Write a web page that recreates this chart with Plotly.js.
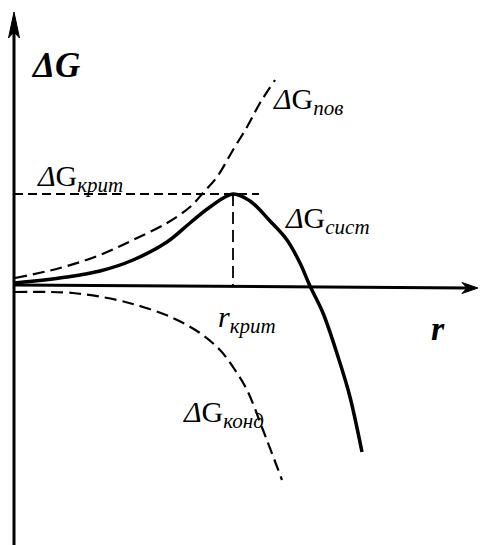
<!DOCTYPE html>
<html>
<head>
<meta charset="utf-8">
<script src="https://cdn.plot.ly/plotly-3.0.1.min.js"></script>
<style>
  html, body { margin: 0; padding: 0; background: #ffffff; }
  #chart { width: 486px; height: 545px; }
</style>
</head>
<body>
<div id="chart"></div>
<script>
// Radius of the nucleus (arbitrary units) and the free-energy terms
const rSurface = [1, 46, 86, 119, 153, 176, 189, 203, 219, 233, 246, 261];
const gSurface = [7, 17, 30, 45, 62, 78, 92, 108, 135, 158, 182, 205];

const rSystem = [1, 53, 86, 119, 153, 176, 196, 219, 236, 256, 273, 286, 296, 309, 326, 336, 348];
const gSystem = [2, 8, 14, 25, 43, 62, 78, 91, 84, 64, 45, 22, -1, -28, -78, -112, -167];

const rCond = [1, 59, 103, 129, 159, 186, 206, 219, 233, 249, 268];
const gCond = [-7, -8, -15, -22, -33, -48, -65, -82, -105, -145, -195];

// Critical point of the system curve
const rKrit = 219;
const gKrit = 91;
const kritLineEnd = 245;

// Axis extents
const rAxisEnd = 464;
const rAxisDrop = -3;
const gAxisTop = 273;
const gAxisBottom = -260;

const serif = 'Liberation Serif, Times New Roman, serif';
const dashed = { color: '#000', width: 2.2, dash: '12px,6px' };

const traces = [
  { x: rSurface, y: gSurface, mode: 'lines', line: Object.assign({ shape: 'spline', smoothing: 1 }, dashed), hoverinfo: 'skip' },
  { x: rCond, y: gCond, mode: 'lines', line: Object.assign({ shape: 'spline', smoothing: 1 }, dashed), hoverinfo: 'skip' },
  { x: [0, kritLineEnd], y: [gKrit, gKrit], mode: 'lines', line: { color: '#000', width: 1.8, dash: '9px,5px' }, hoverinfo: 'skip' },
  { x: [rKrit, rKrit], y: [gKrit, 0], mode: 'lines', line: { color: '#000', width: 1.8, dash: '12px,6px' }, hoverinfo: 'skip' },
  { x: rSystem, y: gSystem, mode: 'lines', line: { color: '#000', width: 3.5, shape: 'spline', smoothing: 1 }, hoverinfo: 'skip' }
];

// Axes with arrow heads
const shapes = [
  { type: 'line', x0: 0, y0: gAxisBottom, x1: 0, y1: gAxisTop - 20, line: { color: '#000', width: 3 } },
  { type: 'path', path: `M -5.5,${gAxisTop - 26} L 0,${gAxisTop} L 5.5,${gAxisTop - 26} L 0,${gAxisTop - 20} Z`,
    fillcolor: '#000', line: { color: '#000', width: 1 } },
  { type: 'line', x0: 0, y0: 0, x1: rAxisEnd - 10, y1: rAxisDrop, line: { color: '#000', width: 3 } },
  { type: 'path', path: `M ${rAxisEnd - 16},${rAxisDrop + 5.5} L ${rAxisEnd},${rAxisDrop} L ${rAxisEnd - 16},${rAxisDrop - 5.5} L ${rAxisEnd - 11},${rAxisDrop} Z`,
    fillcolor: '#000', line: { color: '#000', width: 1 } }
];

function label(text, x, y, size) {
  return { text: text, x: x, y: y, xref: 'x', yref: 'y', xanchor: 'left', yanchor: 'middle',
           showarrow: false, font: { family: serif, size: size, color: '#000' } };
}

const annotations = [
  label('<b><i>ΔG</i></b>', 15, 220, 35),
  label('<i>Δ</i>G<sub><i>пов</i></sub>', 257, 184, 30),
  label('<i>Δ</i>G<sub><i>крит</i></sub>', 21, 107, 30),
  label('<i>Δ</i>G<sub><i>сист</i></sub>', 269, 65, 30),
  label('<i>r</i><sub><i>крит</i></sub>', 202, -34, 30),
  label('<b><i>r</i></b>', 415, -43, 34),
  label('<i>Δ</i>G<sub><i>конд</i></sub>', 167, -129, 30)
];

const layout = {
  width: 486, height: 545,
  margin: { l: 0, r: 0, t: 0, b: 0 },
  paper_bgcolor: '#fff', plot_bgcolor: '#fff',
  showlegend: false,
  xaxis: { range: [-14, 472], visible: false, fixedrange: true },
  yaxis: { range: [-260, 285], visible: false, fixedrange: true },
  shapes: shapes,
  annotations: annotations
};

Plotly.newPlot('chart', traces, layout, { displayModeBar: false, staticPlot: true });
</script>
</body>
</html>
